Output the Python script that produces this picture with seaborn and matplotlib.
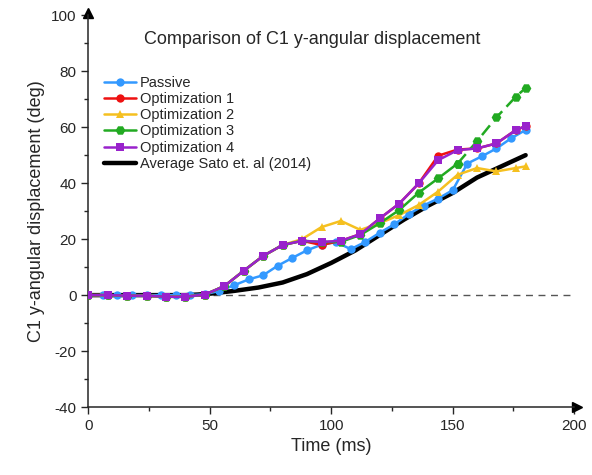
import matplotlib
matplotlib.use("Agg")
import matplotlib.pyplot as plt
import seaborn as sns
import numpy as np
from matplotlib.ticker import MultipleLocator

sns.set_style("ticks")
plt.rcParams['font.family'] = ['Liberation Sans', 'DejaVu Sans']
plt.rcParams['axes.unicode_minus'] = False

t_p = [0,6,12,18,24,30,36,42,48,54,60,66,72,78,84,90,96,102,108,114,120,126,132,138,144,150,156,162,168,174,180]
passive = [0,0,0,0,0,0,0,0,0.3,1.5,3.5,5.6,7.1,10.5,13.3,16,18,19,16.4,19,22.3,25.3,29,32,34.5,37.5,47,49.6,52.4,56,59]

t_o = [0,8,16,24,32,40,48,56,64,72,80,88,96,104,112,120,128,136,144,152,160,168,176,180]
opt4 = [0,0,-0.2,-0.2,-0.6,-0.6,0.2,3.2,8.7,14,17.9,19.4,19,19.4,21.8,27.4,32.7,39.9,48.2,51.8,52.4,54.2,59,60.4]
opt1 = [0,0,-0.2,-0.2,-0.6,-0.6,0.2,3.2,8.7,14,17.9,19.4,17.9,19.4,21.8,27.4,32.7,39.9,49.8,52,52.4,54.2,59,60.4]
opt2 = [0,0,-0.2,-0.2,-0.6,-0.6,0.2,3.2,8.7,14,17.9,20,24.3,26.5,23.3,25.7,28.6,32.2,37,43,45.4,44.2,45.4,46]
opt3 = [0,0,-0.2,-0.2,-0.6,-0.6,0.2,3.2,8.7,14,17.9,19.4,19,19,21.5,25.7,30.4,36.6,41.7,47,55,63.5,70.9,74]

t_s = [0,10,20,30,40,45,50,60,70,80,90,100,110,120,130,140,150,160,170,180]
sato = [0,0,0,0,0,0.2,0.5,1.5,2.7,4.5,7.5,11.5,16,21.5,27,32,36.5,42,46,50]

fig = plt.figure(figsize=(5.92, 4.75), dpi=100)
ax = fig.add_axes([0.149, 0.143, 0.821, 0.825])

ax.axhline(0, color='#555555', lw=1, ls=(0, (5, 4)), zorder=1)
sns.lineplot(x=t_s, y=sato, ax=ax, color='black', lw=3.2, label='Average Sato et. al (2014)', zorder=2)

def series(t, y, color, marker, label, ms, dash_after=None):
    t = np.array(t); y = np.array(y)
    if dash_after is None:
        sns.lineplot(x=t, y=y, ax=ax, color=color, lw=1.8, marker=marker, ms=ms,
                     markeredgewidth=0, label=label, zorder=3)
    else:
        m = t <= dash_after
        sns.lineplot(x=t[m], y=y[m], ax=ax, color=color, lw=1.8, marker=marker, ms=ms,
                     markeredgewidth=0, label=label, zorder=3)
        m2 = t >= t[m][-1]
        ax.plot(t[m2], y[m2], color=color, lw=1.8, ls=(0, (5, 2.5)), marker=marker, ms=ms,
                markeredgewidth=0, zorder=3)

series(t_p, passive, '#3399ff', 'o', 'Passive', 6)
series(t_o, opt1, '#ee1111', 'o', 'Optimization 1', 6)
series(t_o, opt2, '#f5c020', '^', 'Optimization 2', 6)
series(t_o, opt3, '#22aa22', 'H', 'Optimization 3', 7, dash_after=152)
series(t_o, opt4, '#9922cc', 's', 'Optimization 4', 6)

handles, labels = ax.get_legend_handles_labels()
order = ['Passive', 'Optimization 1', 'Optimization 2', 'Optimization 3', 'Optimization 4', 'Average Sato et. al (2014)']
hd = dict(zip(labels, handles))
ax.legend([hd[k] for k in order], order, loc='upper left', bbox_to_anchor=(0.02, 0.86),
          frameon=False, fontsize=10.5, handlelength=2.2, handletextpad=0.3,
          labelspacing=0.15, borderaxespad=0)

ax.set_xlim(0, 200)
ax.set_ylim(-40, 100)
ax.xaxis.set_major_locator(MultipleLocator(50))
ax.xaxis.set_minor_locator(MultipleLocator(25))
ax.yaxis.set_major_locator(MultipleLocator(20))
ax.yaxis.set_minor_locator(MultipleLocator(10))
ax.tick_params(which='major', direction='out', length=5, width=1, labelsize=11)
ax.tick_params(which='minor', direction='out', length=3, width=1)
for s in ['top', 'right']:
    ax.spines[s].set_visible(False)
for s in ['left', 'bottom']:
    ax.spines[s].set_linewidth(1.1)
ax.plot(1.005, 0, '>k', transform=ax.transAxes, clip_on=False, ms=7)
ax.plot(0, 1.005, '^k', transform=ax.transAxes, clip_on=False, ms=7)

ax.set_xlabel('Time (ms)', fontsize=13)
ax.set_ylabel('C1 y-angular displacement (deg)', fontsize=13)
ax.text(0.46, 0.96, 'Comparison of C1 y-angular displacement', transform=ax.transAxes,
        ha='center', va='top', fontsize=13)

fig.savefig('out.png', dpi=100)
